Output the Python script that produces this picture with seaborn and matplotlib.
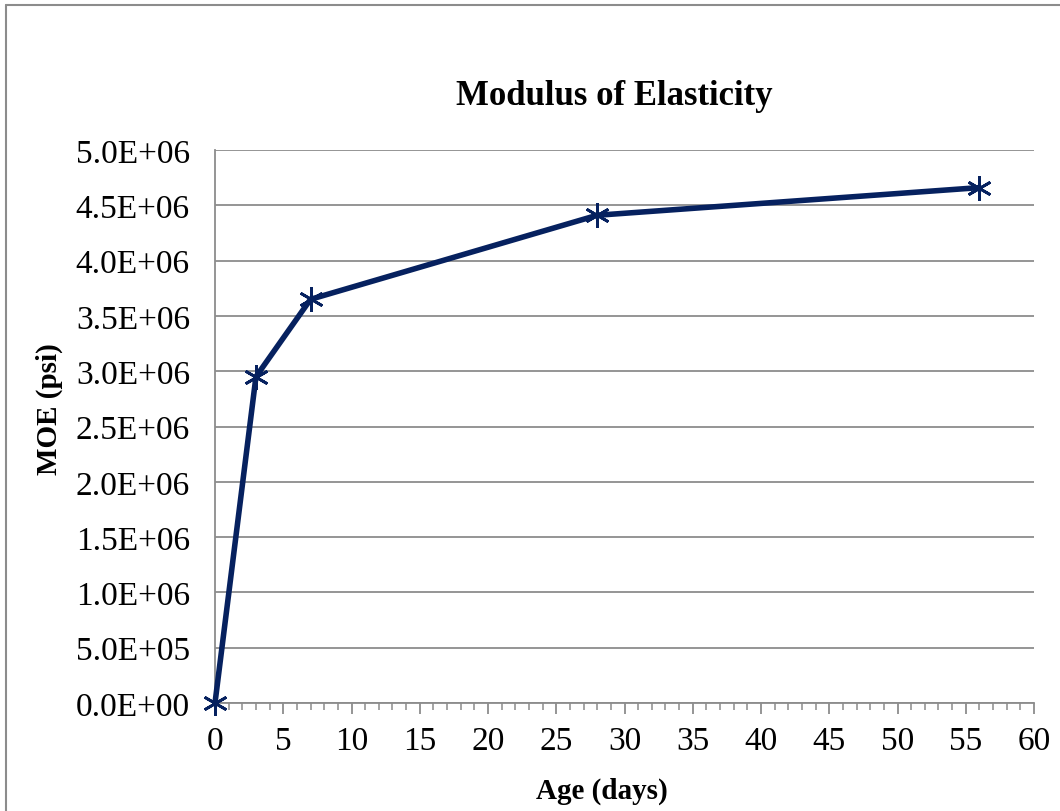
import matplotlib
matplotlib.use("Agg")
import matplotlib.pyplot as plt
import seaborn as sns
import pandas as pd
from matplotlib.ticker import MultipleLocator, FuncFormatter
from matplotlib.lines import Line2D

# Modulus of elasticity measured at each curing age
age_days = [0, 3, 7, 28, 56]
moe_psi = [0.0, 2.95e6, 3.65e6, 4.41e6, 4.66e6]

x_ticks = list(range(0, 61, 5))
y_ticks = [i * 5e5 for i in range(11)]

sns.set_theme(style="white")
plt.rcParams["font.family"] = ["Liberation Serif", "DejaVu Serif"]
plt.rcParams["text.color"] = "black"
plt.rcParams["axes.labelcolor"] = "black"

df = pd.DataFrame({"age": age_days, "moe": moe_psi})

fig = plt.figure(figsize=(10.6, 8.12), dpi=100)
ax = fig.add_axes([215 / 1060, 1 - 704 / 812, (1034 - 215) / 1060, (704 - 151) / 812])

navy = "#06215f"
sns.lineplot(data=df, x="age", y="moe", ax=ax, color=navy, linewidth=4,
             marker=(6, 2, 0), markersize=18, markeredgewidth=2,
             markeredgecolor=navy, zorder=3, clip_on=False)

ax.set_xlim(0, 60)
ax.set_ylim(0, 5e6)
ax.set_xticks(x_ticks)
ax.set_yticks(y_ticks)
ax.xaxis.set_minor_locator(MultipleLocator(1))
ax.yaxis.set_major_formatter(FuncFormatter(lambda v, _: "{:.1E}".format(v)))
ax.xaxis.set_major_formatter(FuncFormatter(lambda v, _: f"{int(v)}"))

ax.grid(axis="y", color="#8c8c8c", linewidth=1.3)
ax.grid(axis="x", visible=False)
for side in ["top", "right"]:
    ax.spines[side].set_visible(False)
for side in ["left", "bottom"]:
    ax.spines[side].set_color("#8c8c8c")
    ax.spines[side].set_linewidth(1.3)

ax.tick_params(axis="x", which="major", bottom=True, direction="out", length=8,
               width=1.3, color="#8c8c8c", labelsize=24, pad=8, labelcolor="black")
ax.tick_params(axis="x", which="minor", bottom=True, direction="out", length=5,
               width=1.1, color="#8c8c8c")
ax.tick_params(axis="y", which="major", left=False, labelsize=24, pad=12,
               labelcolor="black")

ax.set_xlabel("Age (days)", fontsize=21, fontweight="bold")
ax.set_ylabel("MOE (psi)", fontsize=21, fontweight="bold")
ax.xaxis.set_label_coords(0.4725, -0.133)
ax.yaxis.set_label_coords(-0.185, 0.533)
ax.set_title("Modulus of Elasticity", fontsize=25, fontweight="bold", pad=33,
             color="black", x=0.488)

# Chart area frame (top and left edges)
fig.add_artist(Line2D([5.5 / 1060, 5.5 / 1060], [0, 1 - 5.5 / 812],
                      transform=fig.transFigure, color="#8c8c8c", linewidth=1.5))
fig.add_artist(Line2D([5.5 / 1060, 1], [1 - 5.5 / 812, 1 - 5.5 / 812],
                      transform=fig.transFigure, color="#8c8c8c", linewidth=1.5))

fig.savefig("out.png", dpi=100, facecolor="white")
